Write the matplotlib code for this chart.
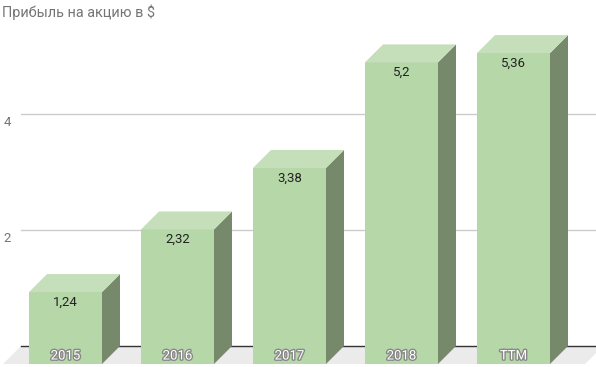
import matplotlib
matplotlib.use("Agg")
import matplotlib.pyplot as plt
from matplotlib.patches import Polygon
import matplotlib.patheffects as pe

plt.rcParams['font.family'] = ['Roboto', 'DejaVu Sans']

# data
categories = ['2015', '2016', '2017', '2018', 'TTM']
eps = [1.24, 2.32, 3.38, 5.2, 5.36]
eps_labels = ['1,24', '2,32', '3,38', '5,2', '5,36']
grid_values = [2, 4]

# colours
front_col = '#b6d7a8'
top_col = '#c5dfba'
side_col = '#76896b'
floor_col = '#ebebeb'

fig = plt.figure(figsize=(5.96, 3.67), dpi=100)
ax = fig.add_axes([0, 0, 1, 1])
ax.set_axis_off()

# pixel -> data: 112 px per category, 58 px per unit
ax.set_xlim(-65.5 / 112, (596 - 65.5) / 112)
ax.set_ylim(-(367 - 346) / 58, 346 / 58)

dx = 18 / 112   # depth offset in x
dy = 18 / 58    # depth offset in y
w = 73 / 112    # bar front width
x_left = (21 - 65.5) / 112
x_right = 4.8

# floor
ax.add_patch(Polygon([(x_left, 0), (x_right, 0), (x_right - dx, -dy), (x_left - dx, -dy)],
                     closed=True, facecolor=floor_col, edgecolor='none', zorder=1))

# gridlines on back wall
for g in grid_values:
    ax.plot([x_left, x_right], [g, g], color='#cccccc', lw=1, zorder=1)
    ax.text((7 - 65.5) / 112, g - 8 / 58, str(g), ha='center', va='center',
            fontsize=9.5, color='#757575')
ax.plot([x_left, x_right], [0, 0], color='#333333', lw=1, zorder=2)

xs = list(range(len(categories)))
ax.bar(xs, eps, width=w, bottom=-dy, color=front_col, edgecolor='none', zorder=3)

for i, v in zip(xs, eps):
    r = i + w / 2
    l = i - w / 2
    ax.add_patch(Polygon([(r, -dy), (r, v - dy), (r + dx, v), (r + dx, 0)],
                         closed=True, facecolor=side_col, edgecolor='none', zorder=3))
    ax.add_patch(Polygon([(l, v - dy), (r, v - dy), (r + dx, v), (l + dx, v)],
                         closed=True, facecolor=top_col, edgecolor='none', zorder=3))

for i, v, s in zip(xs, eps, eps_labels):
    ax.text(i, v - dy - 10 / 58, s, ha='center', va='center', fontsize=9.5,
            color='#222222', zorder=5)

for i, c in zip(xs, categories):
    ax.text(i, -dy + 8 / 58, c, ha='center', va='center', fontsize=9.5,
            color='white', zorder=5,
            path_effects=[pe.withStroke(linewidth=2, foreground='#888888')])

fig.text(2 / 596, 1 - 12 / 367, 'Прибыль на акцию в $', ha='left', va='center',
         fontsize=10.4, color='#757575')

fig.savefig('out.png', dpi=100)
